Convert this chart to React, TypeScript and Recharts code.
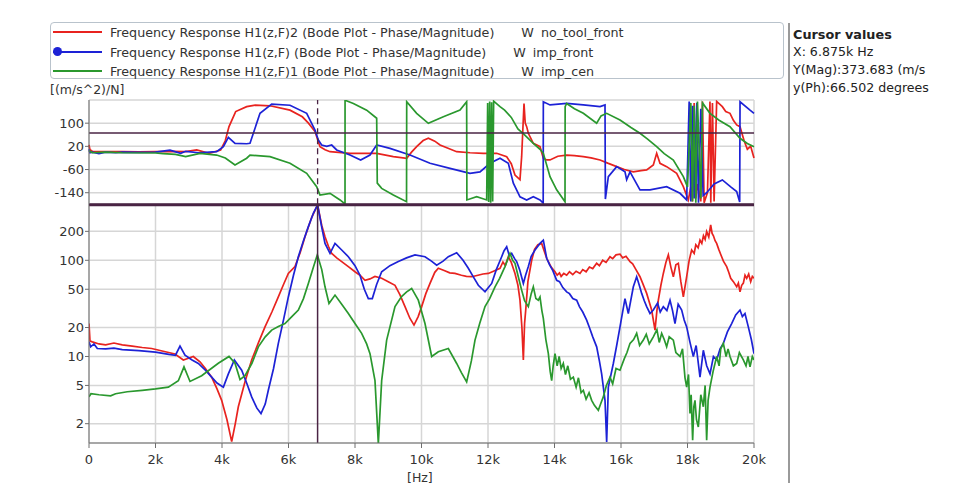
import React from 'react';
import { LineChart, Line, XAxis, YAxis, CartesianGrid, ReferenceLine } from 'recharts';

// ---------- Texts ----------
const SERIES_LABELS = [
  'Frequency Response H1(z,F)2 (Bode Plot - Phase/Magnitude)',
  'Frequency Response H1(z,F) (Bode Plot - Phase/Magnitude)',
  'Frequency Response H1(z,F)1 (Bode Plot - Phase/Magnitude)',
];
const SOURCE_NAMES = ['no_tool_front', 'imp_front', 'imp_cen'];
const SERIES_COLORS = ['#e8231f', '#1d22d6', '#2a982e'];
const CURSOR_LINES = ['X: 6.875k Hz', 'Y(Mag):373.683 (m/s', 'y(Ph):66.502 degrees'];
const CURSOR_X = 6875;
const CURSOR_MAG = 373.683;
const CURSOR_PHASE = 66.502;

// ---------- Axes ----------
const FREQ_TICKS = [0, 2000, 4000, 6000, 8000, 10000, 12000, 14000, 16000, 18000, 20000];
const PHASE_TICKS = [100, 20, -60, -140];
const MAG_TICKS = [200, 100, 50, 20, 10, 5, 2];

// ---------- Magnitude [Hz, (m/s^2)/N] ----------
const MAG_RED: number[][] = [
  [0, 22], [30, 14.5], [100, 14.2], [300, 13.5], [500, 13.2], [750, 13.8], [1000, 13.2], [1300, 12.8],
  [1600, 12.4], [1885, 12.1], [2200, 11.4], [2586, 10.6], [2837, 9.2], [2990, 9.6], [3137, 10], [3338, 8.8],
  [3500, 7.5], [3689, 6.1], [3850, 4.6], [3990, 3.5], [4150, 2.2], [4291, 1.3], [4400, 2.0], [4491, 3.0],
  [4700, 5.6], [4892, 9.2], [5100, 14], [5293, 20.3], [5500, 29], [5694, 41.6], [5850, 56], [5995, 73],
  [6195, 86], [6350, 120], [6496, 176], [6700, 280], [6875, 377], [7000, 230], [7098, 176], [7200, 140],
  [7299, 118], [7450, 106], [7600, 97], [7800, 86], [8000, 76], [8150, 70], [8301, 62], [8450, 64],
  [8600, 68], [8802, 65], [9000, 60], [9203, 55], [9350, 44], [9504, 33], [9650, 25], [9774, 21.2],
  [9900, 26], [10005, 33], [10130, 45], [10256, 57.5], [10400, 75], [10506, 82.6], [10700, 78], [10850, 74],
  [11007, 73], [11200, 70], [11350, 68], [11509, 67.5], [11700, 70], [11850, 72], [12010, 73], [12200, 78],
  [12361, 82.6], [12450, 96], [12520, 88], [12611, 109], [12700, 95], [12812, 73], [12900, 55], [12962, 38.5],
  [13020, 20], [13063, 9.2], [13100, 22], [13133, 30], [13200, 60], [13314, 100], [13400, 130], [13500, 145],
  [13614, 150], [13680, 128], [13765, 105], [13850, 92], [13900, 85], [13960, 80], [14015, 76], [14080, 70],
  [14150, 74], [14200, 68], [14280, 73], [14366, 70], [14450, 76], [14550, 71], [14650, 77], [14767, 73],
  [14850, 80], [14950, 76], [15050, 85], [15150, 82], [15268, 93], [15350, 88], [15450, 100], [15550, 95],
  [15669, 109], [15750, 104], [15850, 114], [15970, 116], [16050, 106], [16150, 110], [16271, 97], [16350, 92],
  [16450, 80], [16571, 67.5], [16650, 58], [16772, 45.3], [16870, 35], [16922, 30.4], [17023, 18.8], [17080, 30],
  [17123, 38.5], [17200, 55], [17273, 73], [17350, 95], [17424, 114], [17500, 85], [17574, 67.5], [17650, 90],
  [17724, 93], [17800, 60], [17875, 41.6], [17975, 67.5], [18050, 100], [18125, 128], [18200, 118], [18250, 145],
  [18320, 135], [18376, 162], [18430, 150], [18480, 180], [18530, 165], [18576, 199], [18640, 175], [18697, 233],
  [18740, 190], [18780, 180], [18830, 160], [18877, 150], [18940, 130], [19000, 115], [19080, 98], [19178, 86],
  [19240, 75], [19300, 65], [19380, 60], [19479, 53], [19530, 58], [19579, 47], [19630, 55], [19680, 58],
  [19730, 70], [19780, 65], [19840, 72], [19900, 60], [19950, 68], [20000, 65],
];

const MAG_BLUE: number[][] = [
  [0, 14.2], [50, 12.6], [150, 13.5], [250, 12.1], [500, 12], [750, 12.2], [1000, 11.8], [1500, 11.5],
  [2000, 11.1], [2400, 10.5], [2600, 10.3], [2737, 12.8], [2887, 10.3], [3100, 9.2], [3288, 8.46], [3500, 7.2],
  [3689, 6.1], [3850, 5.3], [4041, 4.8], [4191, 6.6], [4371, 9.2], [4592, 7.2], [4750, 5.2], [4892, 3.8],
  [5050, 2.9], [5173, 2.55], [5300, 3.2], [5393, 4.45], [5550, 7.5], [5694, 13.7], [5850, 24], [5995, 41.6],
  [6150, 70], [6296, 109], [6450, 160], [6597, 224], [6750, 310], [6875, 377], [7000, 220], [7098, 150],
  [7249, 118], [7399, 150], [7600, 128], [7800, 109], [8000, 88], [8150, 70], [8280, 50], [8401, 40],
  [8521, 40], [8650, 56], [8802, 76], [9050, 88], [9303, 97], [9550, 106], [9804, 114], [10105, 109],
  [10300, 98], [10456, 89], [10650, 98], [10807, 109], [11058, 120], [11250, 100], [11408, 82.6], [11550, 68],
  [11709, 55], [11910, 47], [12111, 57.5], [12250, 80], [12411, 109], [12480, 125], [12562, 138], [12640, 112],
  [12712, 118], [12800, 104], [12862, 97], [12950, 80], [13063, 57.5], [13130, 70], [13213, 86], [13300, 110],
  [13414, 128], [13500, 140], [13564, 150], [13664, 162], [13765, 105], [13850, 90], [13950, 78], [14065, 62],
  [14150, 60], [14250, 52], [14366, 47], [14450, 45], [14550, 40], [14667, 38.5], [14750, 33], [14850, 29],
  [14967, 23.9], [15050, 20], [15150, 16], [15268, 12.6], [15350, 9], [15418, 6.6], [15519, 3.5], [15569, 1.29],
  [15619, 4.8], [15769, 8.46], [15870, 13], [15970, 20.3], [16120, 40], [16220, 28], [16371, 53], [16471, 67.5],
  [16550, 55], [16622, 45.3], [16700, 38], [16772, 33], [16872, 28], [16972, 30.4], [17100, 36], [17180, 29],
  [17273, 33], [17380, 30], [17474, 38.5], [17550, 30], [17624, 22], [17720, 35], [17825, 30.4], [17900, 24],
  [17975, 20.3], [18075, 14], [18175, 10], [18260, 13], [18376, 6.1], [18476, 11.6], [18577, 8], [18677, 6.6],
  [18780, 10], [18877, 9.2], [18980, 12], [19078, 13.7], [19200, 18], [19328, 22], [19450, 27], [19579, 30.4],
  [19650, 26], [19729, 28], [19829, 20.3], [19920, 15], [20000, 10.7],
];

const MAG_GREEN: number[][] = [
  [0, 3.8], [60, 4.1], [300, 4.0], [650, 3.9], [800, 4.1], [1150, 4.3], [1600, 4.45], [2000, 4.6],
  [2386, 4.8], [2687, 5.6], [2857, 7.8], [3038, 5.5], [3388, 6.3], [3889, 8.5], [4211, 10], [4391, 8.5],
  [4542, 5.75], [4692, 6.3], [4900, 8.5], [5093, 12.6], [5300, 16], [5494, 18.8], [5695, 20.5], [5895, 22],
  [6100, 26], [6296, 30.4], [6450, 40], [6597, 57.5], [6750, 85], [6867, 114], [7000, 80], [7098, 53],
  [7218, 35.6], [7399, 43.5], [7600, 35], [7800, 28], [8000, 22], [8200, 17.4], [8350, 13.5], [8451, 10.7],
  [8601, 5.6], [8702, 1.24], [8802, 5.6], [8952, 14.8], [9203, 33], [9400, 42], [9554, 47], [9704, 51],
  [9904, 38.5], [10105, 22], [10306, 10], [10506, 11.2], [10807, 12.1], [11058, 8.46], [11200, 6.8], [11358, 5.45],
  [11500, 9], [11609, 14.8], [11750, 22], [11910, 33], [12050, 40], [12211, 53], [12350, 65], [12511, 86],
  [12662, 118], [12740, 100], [12812, 93], [12900, 70], [13012, 49], [13100, 38], [13213, 33], [13300, 45],
  [13363, 53], [13440, 40], [13514, 38.5], [13564, 41.6], [13620, 30], [13664, 24.9], [13740, 15], [13815, 10.7],
  [13870, 7], [13915, 5.6], [13960, 8], [14015, 10.7], [14080, 8], [14140, 10], [14200, 7.5], [14265, 8.46],
  [14330, 6.5], [14400, 8], [14480, 5.8], [14566, 6.1], [14650, 4.8], [14720, 6], [14800, 4.2], [14867, 4.45],
  [14950, 3.6], [15040, 4.2], [15118, 3.5], [15200, 3.1], [15318, 2.76], [15400, 3.3], [15468, 3.8], [15560, 5],
  [15669, 6.1], [15750, 5.2], [15850, 7.5], [15970, 7.2], [16100, 9.5], [16180, 11], [16271, 13.7], [16380, 15],
  [16471, 17.4], [16560, 13], [16672, 14.8], [16760, 17], [16850, 13.5], [16972, 16], [17080, 19], [17150, 14],
  [17223, 17.4], [17300, 15], [17373, 12.6], [17450, 16], [17574, 14.8], [17650, 11], [17775, 10], [17850, 12],
  [17925, 6], [17975, 4.8], [18030, 6.5], [18075, 2.55], [18110, 4], [18155, 1.35], [18190, 3], [18225, 3.5],
  [18270, 2.2], [18326, 1.85], [18400, 4], [18476, 3.0], [18530, 5], [18576, 1.35], [18620, 3.5], [18677, 4.8],
  [18770, 7], [18877, 10], [18950, 8], [19000, 12], [19078, 13.7], [19160, 10], [19220, 12], [19278, 10],
  [19380, 8], [19479, 8.46], [19560, 11], [19679, 9.2], [19760, 8], [19820, 10], [19880, 7.8], [19950, 10],
  [20000, 9.2],
];

// ---------- Phase [Hz, degrees] ----------
const PH_RED: number[][] = [
  [0, 25], [30, 8], [100, 3], [500, 2], [1000, 2], [1500, 1], [2000, 2], [2500, 3], [2907, 2], [3238, 8],
  [3608, -4], [3959, 7], [4100, 40], [4211, 88], [4411, 140], [4742, 157], [5000, 162], [5444, 160],
  [6045, 145], [6416, 122], [6600, 100], [6797, 71], [6947, 19], [7100, 8], [7249, 1.6], [7850, -4],
  [8652, -4], [9153, -15.6], [9554, -21], [9700, 0], [9854, 19], [10050, 40], [10206, 47.8], [10400, 38],
  [10557, 24.6], [11058, 1.6], [11460, -2], [11860, -4], [12261, -4], [12562, -15.6], [12700, -40], [12812, -79],
  [12912, -90], [12962, -95], [13012, -15.6], [13043, 65], [13083, 168], [13120, 100], [13163, 88], [13213, 65],
  [13363, 30.6], [13564, 19], [13664, -21], [13765, -27], [13865, -27], [14100, -14], [14366, -10], [14600, -12],
  [14867, -15.6], [15100, -20], [15369, -27], [15600, -38], [15870, -50], [16100, -60], [16371, -68], [16600, -64],
  [16772, -61.5], [16972, -44], [17073, -4], [17173, -38.5], [17373, -50], [17674, -73], [17875, -119],
  [18025, -165], [18100, -120], [18150, -170], [18200, 170], [18250, -160], [18300, -110], [18400, -170],
  [18450, 175], [18500, -175], [18600, -140], [18676, 175], [18700, -175], [18750, 170], [18800, -170],
  [18877, 175], [19048, 157], [19150, 140], [19278, 134], [19380, 110], [19479, 94], [19579, 88], [19700, 40],
  [19800, 10], [19900, 20], [20000, -20],
];

const PH_BLUE: number[][] = [
  [0, 10], [30, -2], [100, 0], [300, -5], [500, 0], [800, -2], [1000, 0], [1500, -1], [2000, 0], [2436, 7],
  [2757, -4], [2907, 3], [3300, -2], [3839, 1.6], [4041, 19], [4191, 51], [4392, 30], [4742, 29], [4842, 30.6],
  [5143, 134], [5494, 166], [6045, 162], [6547, 134], [6797, 76], [6897, 42], [6997, 24.6], [7150, 20],
  [7299, 24.6], [7449, 7.5], [7850, -10], [8170, -27], [8451, -10], [8652, 24.6], [9052, 13], [9654, -10],
  [10256, -38.5], [10857, -56], [11459, -73], [11760, -68], [12060, -38.5], [12361, -21], [12611, -38.5],
  [12762, -107], [12962, -154], [13163, -165], [13363, -154], [13564, -165], [13660, -176], [13664, 174],
  [13865, 163], [14366, 168], [14867, 163], [15369, 157], [15519, 163], [15530, -162], [15619, -84.6],
  [15870, -50], [16120, -68], [16170, -95], [16271, -68], [16571, -130], [16872, -130], [17373, -119],
  [17775, -142], [17975, -165], [18050, 175], [18100, -170], [18150, 160], [18200, -160], [18280, 170],
  [18330, -175], [18400, 150], [18470, -150], [18576, -140], [18800, -110], [19048, -96], [19300, -120],
  [19479, -136], [19570, -172], [19580, 174], [19880, 145], [20000, 134],
];

const PH_GREEN: number[][] = [
  [0, 5], [100, -2], [500, 0], [1000, -2], [2000, -3], [2230, -5], [2600, -8], [2907, -15.6], [3338, -4],
  [3839, -10], [4100, -20], [4391, -44], [4742, -21], [4842, -10], [5444, -15.6], [6045, -38.5], [6547, -73],
  [6847, -119], [6947, -148], [7249, -142], [7550, -165], [7700, -179], [7701, 179], [7951, 168], [8351, 145],
  [8652, 117], [8670, -107], [8802, -125], [9153, -148], [9550, -171], [9555, 174], [9854, 134], [10206, 99.6],
  [10657, 122], [11158, 145], [11358, 174], [11365, -165], [11660, -154], [11960, -165], [11990, 170],
  [12020, -172], [12050, 175], [12080, -175], [12110, 172], [12140, -170], [12170, 176], [12361, 157],
  [12500, 145], [12700, 120], [12900, 80], [13100, 60], [13363, 30.6], [13564, 10], [13664, -4], [13865, -84.6],
  [14065, -130], [14316, -171], [14320, 157], [14366, 168], [14600, 150], [14867, 134], [15268, 99.6],
  [15400, 125], [15569, 134], [15970, 111], [16300, 85], [16571, 65], [16800, 45], [17073, 19], [17300, -5],
  [17574, -27], [17875, -84.6], [18000, -120], [18100, 170], [18150, -170], [18200, 160], [18250, -175],
  [18300, 175], [18400, -160], [18450, 170], [18677, 134], [18950, 110], [19278, 88], [19579, 48], [19800, 30],
  [20000, 19],
];

const toPoints = (arr: number[][]) => arr.map(([f, v]) => ({ f, v }));

const FONT = '"DejaVu Sans", Verdana, sans-serif';
const kFmt = (v: number) => (v === 0 ? '0' : `${v / 1000}k`);
const GRID = '#d6d6d6';
const AXIS = '#6e6e6e';
const CURSOR_COLOR = '#4a2444';
const tickStyle = { fontFamily: FONT, fontSize: 13, fill: '#333' };

const magSeries = [MAG_RED, MAG_BLUE, MAG_GREEN];
const phSeries = [PH_RED, PH_BLUE, PH_GREEN];

export default function App() {
  return (
    <div style={{ position: 'absolute', left: 0, top: 0, width: 976, height: 491, background: '#fff', fontFamily: FONT, overflow: 'hidden' }}>
      {/* Magnitude panel */}
      <div style={{ position: 'absolute', left: 0, top: 0 }}>
        <LineChart width={976} height={491} margin={{ top: 204, right: 222, bottom: 18, left: 0 }}>
          <CartesianGrid stroke={GRID} strokeWidth={1.5} />
          <XAxis
            type="number"
            dataKey="f"
            domain={[0, 20000]}
            ticks={FREQ_TICKS}
            tickFormatter={kFmt}
            allowDataOverflow
            stroke={AXIS}
            tickSize={5}
            tickMargin={7}
            height={30}
            tick={tickStyle}
          />
          <YAxis
            type="number"
            dataKey="v"
            scale="log"
            domain={[1.26, 385]}
            ticks={MAG_TICKS}
            allowDataOverflow
            stroke={AXIS}
            tickSize={4}
            tickMargin={1}
            width={89}
            tick={tickStyle}
          />
          {magSeries.map((s, i) => (
            <Line
              key={i}
              data={toPoints(s)}
              dataKey="v"
              stroke={SERIES_COLORS[i]}
              strokeWidth={1.7}
              dot={false}
              type="linear"
              isAnimationActive={false}
            />
          ))}
          <ReferenceLine x={CURSOR_X} stroke={CURSOR_COLOR} strokeWidth={1.5} />
          <ReferenceLine y={CURSOR_MAG} stroke={CURSOR_COLOR} strokeWidth={2} />
        </LineChart>
      </div>

      {/* Phase panel */}
      <div style={{ position: 'absolute', left: 0, top: 0 }}>
        <LineChart width={976} height={206} margin={{ top: 100, right: 222, bottom: 1.7, left: 0 }}>
          <CartesianGrid stroke={GRID} strokeWidth={1.5} />
          <XAxis
            type="number"
            dataKey="f"
            domain={[0, 20000]}
            ticks={FREQ_TICKS}
            height={0}
            tick={false}
            axisLine={false}
            tickLine={false}
          />
          <YAxis
            type="number"
            dataKey="v"
            domain={[-180, 180]}
            ticks={PHASE_TICKS}
            allowDataOverflow
            stroke={AXIS}
            tickSize={4}
            tickMargin={1}
            width={89}
            tick={tickStyle}
          />
          {phSeries.map((s, i) => (
            <Line
              key={i}
              data={toPoints(s)}
              dataKey="v"
              stroke={SERIES_COLORS[i]}
              strokeWidth={1.7}
              dot={false}
              type="linear"
              isAnimationActive={false}
            />
          ))}
          <ReferenceLine x={CURSOR_X} stroke={CURSOR_COLOR} strokeWidth={1.3} strokeDasharray="6 4" />
          <ReferenceLine y={CURSOR_PHASE} stroke={CURSOR_COLOR} strokeWidth={1.5} />
          <ReferenceLine y={-180} stroke={CURSOR_COLOR} strokeWidth={2} />
        </LineChart>
      </div>

      {/* Legend box */}
      <div style={{ position: 'absolute', left: 50, top: 22, width: 734, height: 57, border: '1px solid #b9c3cc', borderRadius: 4, boxSizing: 'border-box' }} />
      {SERIES_LABELS.map((label, i) => {
        const cy = [32, 52, 71][i];
        return (
          <div key={i} style={{ position: 'absolute', left: 53, top: cy - 8, height: 16, display: 'flex', alignItems: 'center', whiteSpace: 'nowrap', fontSize: 12.7, color: '#333' }}>
            <div style={{ position: 'relative', width: 49, height: 16, flex: 'none' }}>
              <div style={{ position: 'absolute', left: 0, top: 7, width: 49, height: 1.5, background: SERIES_COLORS[i] }} />
              {i === 1 && (
                <div style={{ position: 'absolute', left: 0, top: 3, width: 9, height: 9, borderRadius: '50%', background: SERIES_COLORS[1] }} />
              )}
            </div>
            <span style={{ marginLeft: 8 }}>{label}</span>
            <span style={{ marginLeft: 27 }}>W</span>
            <span style={{ marginLeft: 7 }}>{SOURCE_NAMES[i]}</span>
          </div>
        );
      })}

      {/* Y axis unit */}
      <div style={{ position: 'absolute', left: 50, top: 82, fontSize: 12.5, color: '#333', whiteSpace: 'nowrap' }}>[(m/s^2)/N]</div>
      {/* X axis unit */}
      <div style={{ position: 'absolute', left: 407, top: 470, fontSize: 12.5, color: '#333', whiteSpace: 'nowrap' }}>[Hz]</div>

      {/* Cursor panel */}
      <div style={{ position: 'absolute', left: 788, top: 23, width: 1.5, height: 460, background: '#9a9a9a' }} />
      <div style={{ position: 'absolute', left: 793, top: 26, color: '#222' }}>
        <div style={{ fontWeight: 'bold', fontSize: 12.8, lineHeight: '17px', whiteSpace: 'nowrap' }}>Cursor values</div>
        {CURSOR_LINES.map((t, i) => (
          <div key={i} style={{ fontSize: 12.6, lineHeight: '18px', whiteSpace: 'nowrap' }}>{t}</div>
        ))}
      </div>
    </div>
  );
}
